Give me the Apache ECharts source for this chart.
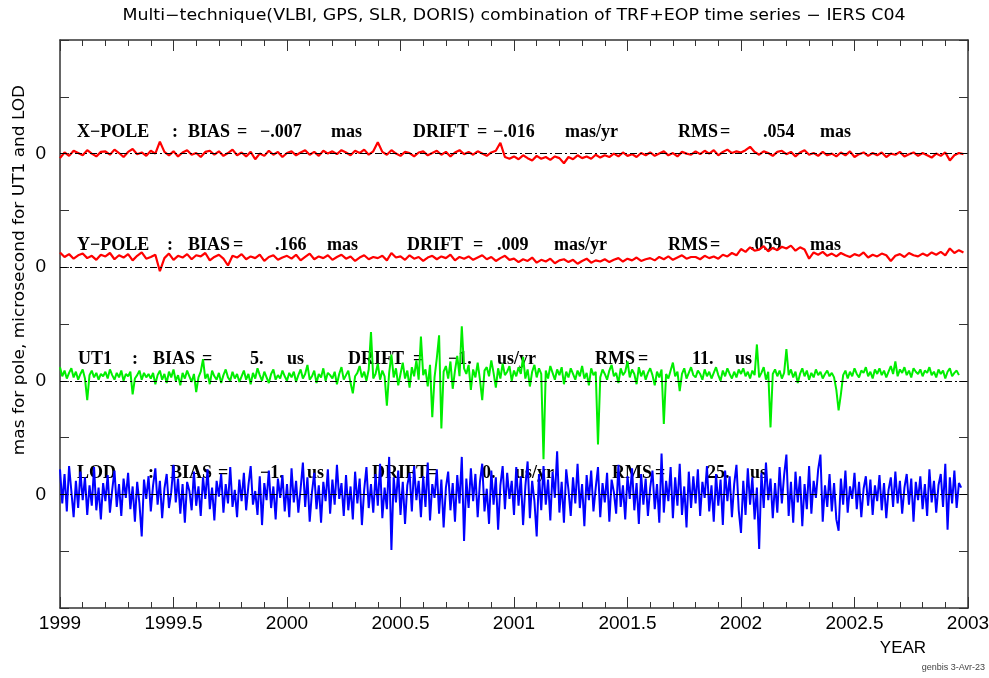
<!DOCTYPE html>
<html>
<head>
<meta charset="utf-8">
<title>Multi-technique combination - IERS C04</title>
<script src="https://cdn.jsdelivr.net/npm/echarts@6/dist/echarts.min.js"></script>
<style>
  html, body { margin: 0; padding: 0; background: #fff; }
  #main { width: 989px; height: 678px; }
</style>
</head>
<body>
<div id="main"></div>
<script>
// sampling of the curves, decimal years
const poleStart = 1999.0, poleStep = 0.02
const earthStart = 1999.0, earthStep = 0.01

// X-pole residuals (mas)
const xPole = [
  -0.08, 0.02, -0.04, 0.05, 0.01, -0.03, 0.06, 0.00, -0.05, 0.03,
  0.04, -0.02, 0.07, 0.01, -0.06, 0.03, 0.08, -0.01, 0.02, -0.04,
  0.05, 0.00, 0.21, 0.03, -0.03, 0.04, -0.05, 0.02, 0.06, -0.02,
  0.01, -0.06, 0.03, 0.05, -0.02, 0.04, -0.04, 0.01, 0.07, -0.03,
  0.02, -0.05, 0.03, -0.10, 0.00, -0.04, 0.05, -0.02, 0.03, -0.06,
  0.01, 0.04, -0.03, 0.02, 0.06, -0.02, 0.03, -0.04, 0.05, 0.00,
  0.04, -0.01, 0.06, 0.02, -0.03, 0.05, 0.01, 0.07, -0.02, 0.04,
  0.20, 0.03, -0.02, 0.06, 0.00, -0.04, 0.03, 0.01, -0.05, 0.02,
  0.04, -0.03, 0.01, 0.05, -0.02, 0.03, -0.05, 0.02, 0.06, -0.01,
  0.03, -0.02, 0.04, 0.00, -0.04, 0.02, 0.05, 0.19, -0.06, -0.09,
  -0.05, -0.10, -0.03, -0.08, -0.12, -0.04, -0.09, -0.06, -0.11, -0.05,
  -0.08, -0.17, -0.06, -0.10, -0.03, -0.08, -0.05, -0.09, -0.02, -0.07,
  -0.03, -0.06, 0.00, -0.05, 0.02, -0.04, -0.01, -0.06, 0.01, -0.03,
  0.02, -0.04, 0.00, 0.04, -0.03, 0.01, -0.05, 0.03, 0.00, -0.02,
  0.04, -0.01, 0.05, 0.00, 0.06, -0.03, 0.03, 0.07, 0.01, 0.04,
  0.02, 0.06, 0.12, 0.03, -0.02, 0.04, 0.01, -0.04, 0.03, 0.05,
  -0.01, 0.03, -0.05, 0.02, 0.06, -0.02, 0.01, -0.04, 0.03, -0.03,
  0.00, -0.05, 0.02, -0.03, 0.04, -0.06, -0.01, 0.02, -0.04, 0.01,
  -0.03, 0.02, -0.06, 0.00, -0.02, 0.03, -0.05, -0.01, 0.02, -0.04,
  0.01, -0.03, -0.07, 0.00, -0.04, 0.02, -0.12, -0.03, 0.01, -0.01
]

// Y-pole residuals (mas)
const yPole = [
  0.26, 0.18, 0.23, 0.15, 0.21, 0.24, 0.16, 0.20, 0.13, 0.22,
  0.19, 0.25, 0.14, 0.21, 0.17, 0.23, 0.12, 0.20, 0.26, 0.15,
  0.18, 0.22, -0.07, 0.16, 0.24, 0.13, 0.20, 0.17, 0.23, 0.14,
  0.21, 0.19, 0.25, 0.12, 0.18, 0.22, 0.15, 0.03, 0.20, 0.17,
  0.23, 0.14, 0.19, 0.16, 0.22, 0.11, 0.18, 0.21, 0.13, 0.17,
  0.20, 0.15, 0.22, 0.12, 0.18, 0.24, 0.14, 0.19, 0.16, 0.21,
  0.13, 0.18, 0.22, 0.15, 0.19, 0.11, 0.17, 0.21, 0.14, 0.18,
  0.16, 0.20, 0.12, 0.25, 0.17, 0.19, 0.13, 0.21, 0.15, 0.18,
  0.11, 0.17, 0.20, 0.14, 0.19, 0.16, 0.22, 0.12, 0.18, 0.15,
  0.19, 0.13, 0.17, 0.21, 0.14, 0.18, 0.11, 0.16, 0.20, 0.13,
  0.15, 0.09, 0.14, 0.11, 0.17, 0.08, 0.13, 0.10, 0.15, 0.07,
  0.12, 0.14, 0.09, 0.13, 0.06, 0.11, 0.15, 0.08, 0.12, 0.10,
  0.14, 0.09, 0.13, 0.16, 0.10, 0.15, 0.12, 0.17, 0.11, 0.14,
  0.16, 0.12, 0.18, 0.14, 0.19, 0.13, 0.17, 0.21, 0.15, 0.18,
  0.18, 0.14, 0.20, 0.16, 0.19, 0.15, 0.22, 0.19, 0.25, 0.21,
  0.32, 0.27, 0.35, 0.29, 0.31, 0.37, 0.28, 0.34, 0.30, 0.36,
  0.33, 0.38, 0.29, 0.35, 0.31, 0.15, 0.26, 0.22, 0.27, 0.20,
  0.24, 0.19, 0.25, 0.21, 0.18, 0.23, 0.20, 0.26, 0.17, 0.22,
  0.19, 0.24, 0.21, 0.11, 0.20, 0.23, 0.18, 0.25, 0.21, 0.19,
  0.24, 0.20, 0.26, 0.22, 0.27, 0.21, 0.33, 0.25, 0.30, 0.26
]

// UT1 residuals (microseconds)
const ut1 = [
  12, 4, 9, 2, 7, 11, 3, 8, 1, 6, 10, 2, -17, 5, 9, 3, 7, 1, 6, 4,
  8, 2, 10, 5, 1, 7, 3, 9, 0, 6, 4, 8, -12, 2, 5, 9, 1, 7, 3, 6,
  2, 7, -3, 5, 9, 1, 6, -2, 8, 3, 10, 0, 5, -4, 7, 2, 9, 4, -1, 6,
  -10, 3, 8, 19, 2, 6, -3, 9, 4, 1, 7, -2, 5, 10, 3, 0, 8, 2, 6, -1,
  4, 9, 1, 6, -3, 7, 2, 11, 5, 0, 8, 3, -2, 6, 10, 1, 5, 2, 9, 4,
  0, 7, 3, 8, -1, 5, 10, 2, 6, 14, 1, 4, 9, -2, 6, 3, 11, 0, 7, 5,
  2, 8, -3, 6, 12, 1, 5, 9, -2, -11, 4, 7, 13, 3, 8, 0, 10, 43, 2, 6,
  15, 1, 9, 4, -22, 7, 23, 3, 11, -4, 6, 16, 2, 9, -6, 12, 4, 18, 1, 39,
  5, 10, -5, 14, -32, 3, 20, 40, -42, 8, 13, 2, 17, -7, 9, 22, 4, 48, 11, 6,
  14, -8, 10, 3, 16, 1, -17, 9, 12, 4, 18, 7, -6, 11, 2, 15, 5, 8, 13, 0,
  9, 4, 12, 6, 21, 2, 10, -5, 8, 14, 3, 11, 6, -69, 9, 2, 13, 7, 1, 10,
  5, 12, -3, 8, 3, 11, 6, 1, 9, 4, 13, 2, 7, -4, 11, 5, 8, -56, 3, 10,
  6, 1, 9, 14, 4, 7, -2, 11, 5, 8, 17, 3, 10, 6, -3, 12, 4, 9, 1, 7,
  11, 5, -4, 8, 3, 10, -38, 6, 2, 9, 16, 4, 8, -9, 6, 11, 2, 7, 12, 5,
  3, 9, 6, 1, 10, 4, 8, 2, 7, 12, 5, 0, 9, 4, 11, 6, 2, 8, 3, 10,
  6, 11, 4, 8, 2, 9, 5, 32, 3, 7, 12, 1, 8, -41, 6, 10, 4, 9, 2, 7,
  28, 5, 10, 3, 8, -2, 6, 11, 4, 9, 1, 7, 3, 10, 5, 8, 2, 6, 9, 4,
  7, 3, -8, -26, -12, 5, 9, 2, 8, 4, 11, 6, 3, 9, 7, 12, 4, 8, 2, 10,
  6, 11, 5, 9, 3, 8, 13, 6, 17, 4, 10, 7, 12, 5, 9, 3, 11, 8, 6, 10,
  4, 9, 7, 12, 5, 8, 3, 10, 6, 9, 2, 8, 11, 4, 7, 9, 5
]

// LOD residuals (microseconds)
const lod = [
  22, -8, 18, -15, 25, 3, -20, 12, -12, 20, -5, 15, -18, 8, -10, 24, -14, 6, -22, 10,
  -6, 17, -16, 4, 21, -11, 9, -19, 14, -3, 19, -13, 7, -24, 11, -8, -37, 13, -4, 16,
  -15, 8, 23, -9, 12, -21, 5, 18, -12, 2, 26, -7, 14, -17, 9, -25, 11, 3, -14, 20,
  -10, 7, -19, 15, -4, 22, -13, 6, -23, 12, -2, 18, -16, 9, -8, 24, -11, 4, -20, 13,
  -6, 19, -14, 8, 25, -9, 3, -18, 16, -27, 10, -5, 21, -12, 7, -22, 14, -3, 17, -15,
  9, -20, 23, -7, 12, -16, 5, 28, -11, 15, -24, 2, 19, -13, 8, -25, 11, -6, 22, -17,
  13, -9, 26, -4, 10, -19, 17, -14, 7, -22, 20, -8, 14, -27, 4, 24, -12, 9, -16, 18,
  -10, 27, -21, 6, -13, 33, -49, 15, -7, 21, -18, 11, -26, 8, 19, -15, 25, -5, 12, -20,
  16, -11, 28, -23, 9, -3, 22, -17, 13, -29, 6, 20, -14, 10, -24, 17, -8, 33, -41, 14,
  -12, 23, -6, 18, -20, 11, 27, -15, 5, -26, 21, -9, 15, -31, 8, 25, -13, 19, -4, 12,
  -18, 24, -10, 16, -27, 7, 29, -21, 12, -6, -37, 18, -14, 25, -9, 13, -23, 20, -3, 38,
  -16, 11, -25, 22, 4, -19, 15, -8, 27, -12, 9, -28, 17, -5, 21, -15, 6, 24, -20, 10,
  -7, 19, -24, 13, 2, -17, 26, -11, 8, -22, 16, -4, 23, -14, 10, -26, 18, -9, 14, -19,
  6, 21, -13, 9, -25, 36, -16, 12, -6, 24, -21, 15, -10, 27, -18, 7, -29, 20, -12, 16,
  -8, 22, -19, 11, -3, 25, -15, 8, -24, 18, -10, 13, -27, 21, -6, 16, -20, 9, 26, -14,
  -34, 12, -18, 23, -9, 15, -22, 6, -48, 19, -12, 28, -5, 14, -21, 10, -16, 24, -8, 17,
  35, -19, 11, -25, 20, -7, 16, -28, 9, -13, 25, -17, 12, -3, 22, 35, -24, 8, -11, 18,
  -15, 10, -22, -32, 14, -9, 21, -16, 7, -4, 19, -13, 11, -20, 5, 16, -10, 13, -18, 8,
  -6, 17, -14, 10, -21, 4, 15, -11, 20, -8, 12, -17, 6, 18, -9, 14, -24, 11, -5, 16,
  -13, 9, -19, 22, -7, 12, -16, 8, 18, -11, 27, -31, 15, -8, 21, -12, 10, 6
]

// statistics printed above each curve
const statTexts = [
  ['X\u2212POLE', ':', 'BIAS', '=', '\u2212.007', 'mas', 'DRIFT', '=', '\u2212.016', 'mas/yr', 'RMS', '=', '.054', 'mas'],
  ['Y\u2212POLE', ':', 'BIAS', '=', '.166', 'mas', 'DRIFT', '=', '.009', 'mas/yr', 'RMS', '=', '.059', 'mas'],
  ['UT1', ':', 'BIAS', '=', '5.', 'us', 'DRIFT', '=', '\u22121.', 'us/yr', 'RMS', '=', '11.', 'us'],
  ['LOD', ':', 'BIAS', '=', '\u22121.', 'us', 'DRIFT', '=', '0.', 'us/yr', 'RMS', '=', '25.', 'us']
]

const title = 'Multi\u2212technique(VLBI, GPS, SLR, DORIS) combination of TRF+EOP time series \u2212 IERS C04'
const yName = 'mas for pole, microsecond for UT1 and LOD'

// layout: where each word of the statistics starts, and the row heights
const statX = [
  [77, 172, 188, 237, 260, 331, 413, 477, 493, 565, 678, 720, 763, 820],
  [77, 167, 188, 233, 275, 327, 407, 473, 497, 554, 668, 710, 750, 810],
  [78, 132, 153, 202, 250, 287, 348, 413, 448, 497, 595, 638, 692, 735],
  [77, 148, 170, 218, 260, 307, 372, 427, 482, 515, 612, 655, 707, 750]
]
const statY = [132, 245, 359, 473]

// each curve is shifted up to its own zero line; us are drawn at 50 us per unit
const offsets = [8, 6, 4, 2]
const usPerUnit = 50

const toPoints = (values, start, step, offset, scale) =>
  values.map((v, i) => [+(start + i * step).toFixed(3), offset + v / scale])

const zeroLine = y => ({
  silent: true,
  symbol: 'none',
  label: { show: false },
  lineStyle: { color: '#000', width: 1, type: [7, 3, 2, 3] },
  data: [{ yAxis: y }]
})

const curve = (data, color, width, offset) => ({
  type: 'line',
  data: data,
  symbol: 'none',
  showSymbol: false,
  animation: false,
  lineStyle: { color: color, width: width },
  markLine: zeroLine(offset),
  z: 3
})

const axisCol = '#333'
const tickFont = { fontFamily: 'Liberation Sans', fontSize: 19, color: '#000' }

const xAxisBase = {
  type: 'value',
  min: 1999,
  max: 2003,
  interval: 0.5,
  axisLine: { show: true, onZero: false, lineStyle: { color: axisCol, width: 1.5 } },
  axisTick: { show: true, inside: true, length: 11, lineStyle: { color: axisCol, width: 1 } },
  minorTick: { show: true, splitNumber: 5, length: 6, lineStyle: { color: axisCol, width: 1 } },
  splitLine: { show: false },
  minorSplitLine: { show: false }
}

const yAxisBase = {
  type: 'value',
  min: 0,
  max: 10,
  interval: 1,
  axisLine: { show: true, onZero: false, lineStyle: { color: axisCol, width: 1.5 } },
  axisTick: { show: true, inside: true, length: 9, lineStyle: { color: axisCol, width: 1 } },
  splitLine: { show: false }
}

let graphics = [
  { type: 'text', x: 514, y: 16, z: 1, scaleX: 1.16,
    style: { text: title, font: '15px "DejaVu Sans"', fill: '#000', align: 'center', verticalAlign: 'middle' } },
  { type: 'text', x: 20, y: 270, rotation: Math.PI / 2, z: 1, scaleX: 1.13,
    style: { text: yName, font: '15px "DejaVu Sans"', fill: '#000', align: 'center', verticalAlign: 'middle' } },
  { type: 'text', x: 903, y: 648, z: 1,
    style: { text: 'YEAR', font: '17px "Liberation Sans"', fill: '#000', align: 'center', verticalAlign: 'middle' } },
  { type: 'text', x: 985, y: 668, z: 1,
    style: { text: 'genbis 3-Avr-23', font: '9px "Liberation Sans"', fill: '#444', align: 'right', verticalAlign: 'middle' } }
]

statTexts.forEach((row, r) => {
  row.forEach((word, k) => {
    graphics.push({
      type: 'text', x: statX[r][k], y: statY[r], z: 1,
      style: { text: word, font: 'bold 18px "Liberation Serif"', fill: '#000', align: 'left', verticalAlign: 'middle' }
    })
  })
})

const chart = echarts.init(document.getElementById('main'), null, { renderer: 'canvas' })

chart.setOption({
  backgroundColor: '#fff',
  animation: false,
  grid: { left: 60, right: 21, top: 40, bottom: 70, containLabel: false, outerBoundsMode: 'none' },
  xAxis: [
    Object.assign({}, xAxisBase, {
      position: 'bottom',
      axisLabel: Object.assign({ show: true, margin: 6, showMinLabel: true, showMaxLabel: true, hideOverlap: false,
        formatter: v => String(v) }, tickFont)
    }),
    Object.assign({}, xAxisBase, { position: 'top', axisLabel: { show: false } })
  ],
  yAxis: [
    Object.assign({}, yAxisBase, {
      position: 'left',
      axisLabel: Object.assign({ show: true, margin: 14,
        formatter: v => (offsets.indexOf(v) >= 0 ? '0' : '') }, tickFont)
    }),
    Object.assign({}, yAxisBase, { position: 'right', axisLabel: { show: false } })
  ],
  graphic: { elements: graphics },
  series: [
    curve(toPoints(xPole, poleStart, poleStep, offsets[0], 1), '#ff0000', 2.2, offsets[0]),
    curve(toPoints(yPole, poleStart, poleStep, offsets[1], 1), '#ff0000', 2.2, offsets[1]),
    curve(toPoints(ut1, earthStart, earthStep, offsets[2], usPerUnit), '#00ee00', 2, offsets[2]),
    curve(toPoints(lod, earthStart, earthStep, offsets[3], usPerUnit), '#0000ff', 2, offsets[3])
  ]
})
</script>
</body>
</html>
